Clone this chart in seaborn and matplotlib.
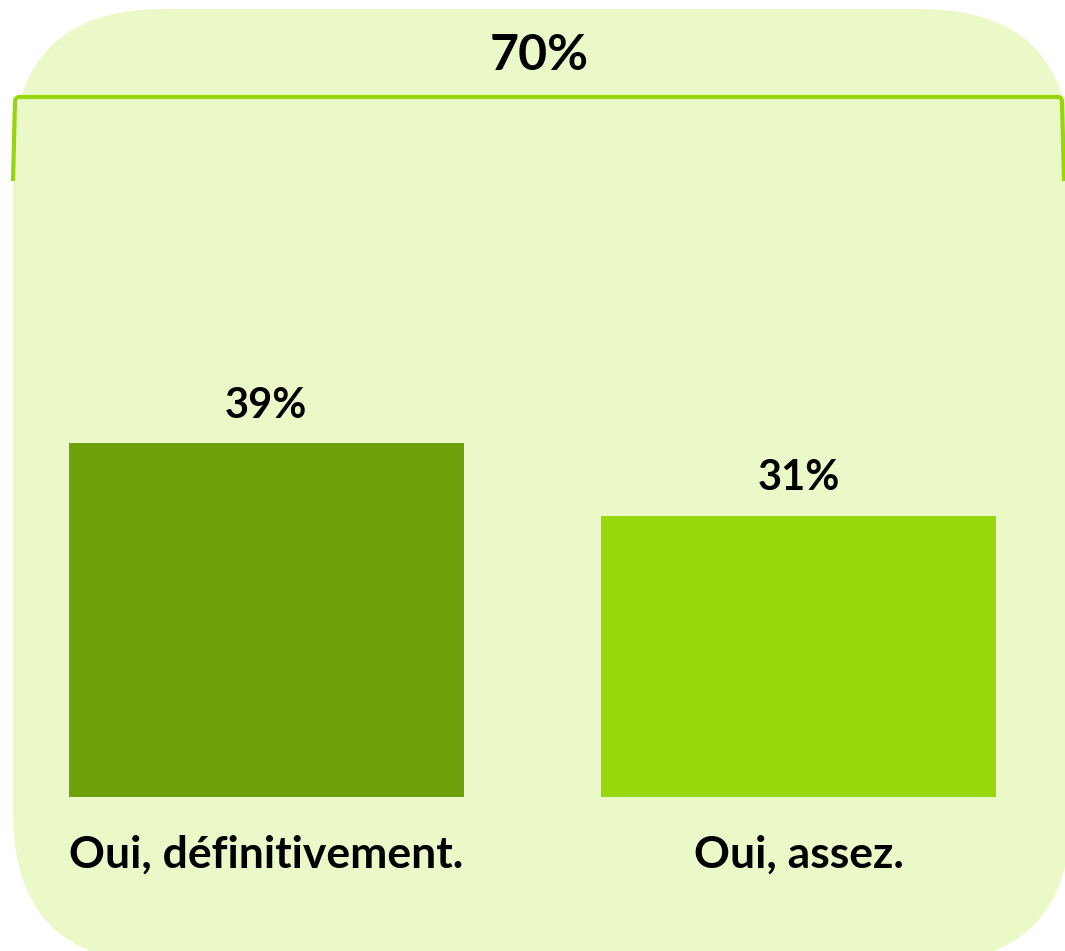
import numpy as np
import pandas as pd
import matplotlib
matplotlib.use("Agg")
import matplotlib.pyplot as plt
import seaborn as sns
from matplotlib.patches import FancyBboxPatch
from matplotlib.path import Path
from matplotlib.patches import PathPatch

# Datos del grafico
categories = ["Oui, définitivement.", "Oui, assez."]
values = [39, 31]
bar_colors = ["#6FA10A", "#97D80B"]
total = sum(values)

sns.set_theme(style="white")
plt.rcParams["font.family"] = ["Lato", "DejaVu Sans"]
WEIGHT = "bold"

W, H = 1065, 951
fig = plt.figure(figsize=(W / 100, H / 100), dpi=100)

# fondo redondeado y corchete (coordenadas en pixeles)
bg = fig.add_axes([0, 0, 1, 1])
bg.set_xlim(0, W)
bg.set_ylim(0, H)
bg.axis("off")
box = FancyBboxPatch((13, -12), 1058, H - 9 + 12, boxstyle="round,pad=0,rounding_size=150",
                     fc="#EBF9C9", ec="none")
bg.add_patch(box)

green = "#96D60A"
verts = [(13, H - 181), (15, H - 102), (15, H - 97), (20, H - 97),
         (1058, H - 97), (1062, H - 97), (1062, H - 102), (1064, H - 181)]
codes = [Path.MOVETO, Path.LINETO, Path.CURVE3, Path.CURVE3,
         Path.LINETO, Path.CURVE3, Path.CURVE3, Path.LINETO]
bg.add_patch(PathPatch(Path(verts, codes), fc="none", ec=green, lw=3.0, capstyle="butt"))
bg.text(539, H - 55, f"{total}%", ha="center", va="center", fontsize=36,
        fontweight=WEIGHT, color="black")

# barras
df = pd.DataFrame({"cat": categories, "val": values})
ax = fig.add_axes([0, 154 / H, 1, 797 / H])
ax.patch.set_alpha(0)
sns.barplot(data=df, x="cat", y="val", hue="cat", palette=bar_colors,
            width=0.742, saturation=1, legend=False, linewidth=0, ax=ax)
ax.set_xlim(-0.5, 1.5)
ax.set_ylim(0, 797 / 9.08)
for c in ax.containers:
    ax.bar_label(c, labels=[f"{v:.0f}%" for v in c.datavalues], padding=13,
                 fontsize=30, fontweight=WEIGHT, color="black")
ax.set_xlabel("")
ax.set_ylabel("")
ax.set_yticks([])
ax.tick_params(axis="x", length=0, pad=27)
for lab in ax.get_xticklabels():
    lab.set_fontsize(32)
    lab.set_fontweight(WEIGHT)
    lab.set_color("black")
sns.despine(ax=ax, left=True, bottom=True)

fig.savefig("out.png", dpi=100)
